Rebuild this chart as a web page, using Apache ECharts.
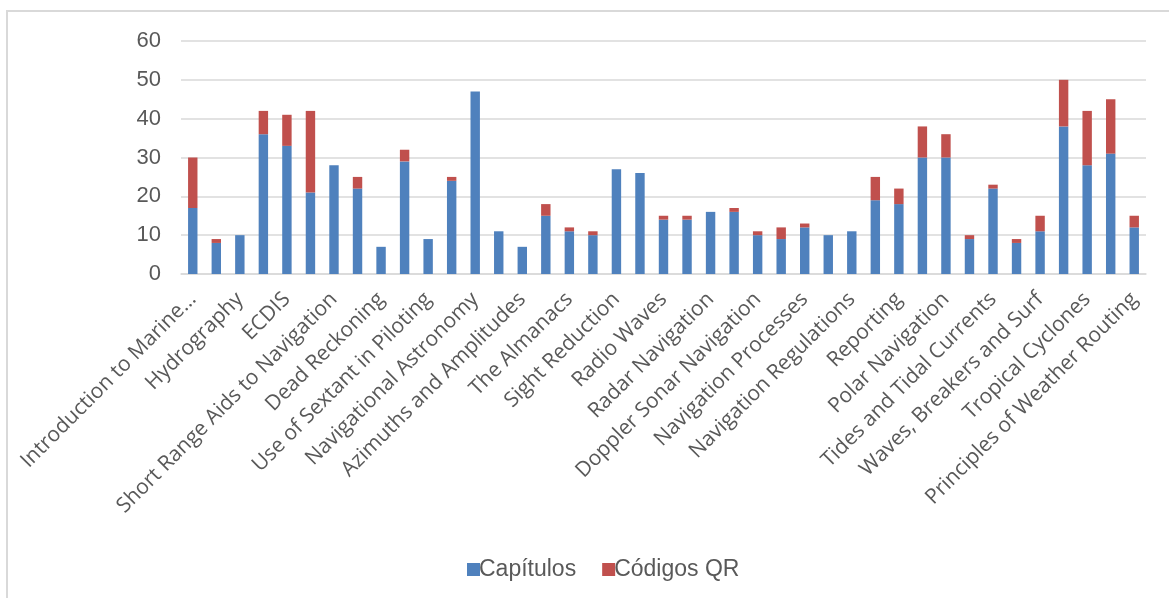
<!DOCTYPE html>
<html>
<head>
<meta charset="utf-8">
<script src="https://cdn.jsdelivr.net/npm/echarts@6/dist/echarts.min.js"></script>
<style>
  html, body { margin: 0; padding: 0; background: #fff; }
  #chart { width: 1169px; height: 598px; }
</style>
</head>
<body>
<div id="chart"></div>
<script>
// chapters, in book order (only every second one gets a label)
var chapters = [
  'Introduction to Marine Navigation', 'Geodesy and Datums in Navigation', 'Hydrography', 'Nautical Charts',
  'ECDIS', 'Nautical Publications', 'Short Range Aids to Navigation', 'Compasses',
  'Dead Reckoning', 'Piloting', 'Use of Sextant in Piloting', 'Introduction to Celestial Navigation',
  'Navigational Astronomy', 'Instruments for Celestial Navigation', 'Azimuths and Amplitudes', 'Time',
  'The Almanacs', 'Sight Planning', 'Sight Reduction', 'Navigational Calculations',
  'Radio Waves', 'Satellite Navigation', 'Radar Navigation', 'Electronic Navigation Systems',
  'Doppler Sonar Navigation', 'Emergency Navigation', 'Navigation Processes', 'Bridge Resource Management',
  'Navigation Regulations', 'Maritime Safety Systems', 'Reporting', 'Ice in the Sea',
  'Polar Navigation', 'Oceanography', 'Tides and Tidal Currents', 'Ocean Currents',
  'Waves, Breakers and Surf', 'Weather Elements', 'Tropical Cyclones', 'Weather Observations',
  'Principles of Weather Routing'
];

var capitulos = [
  17, 8, 10, 36, 33, 21, 28, 22, 7, 29, 9, 24, 47, 11,
  7, 15, 11, 10, 27, 26, 14, 14, 16, 16, 10, 9, 12,
  10, 11, 19, 18, 30, 30, 9, 22, 8, 11, 38, 28, 31, 12
];

var codigosQR = [
  13, 1, 0, 6, 8, 21, 0, 3, 0, 3, 0, 1, 0, 0,
  0, 3, 1, 1, 0, 0, 1, 1, 0, 1, 1, 3, 1,
  0, 0, 6, 4, 8, 6, 1, 1, 1, 4, 12, 14, 14, 3
];

var yTicks = { min: 0, max: 60, interval: 10 };

var chart = echarts.init(document.getElementById('chart'));

var option = {
  animation: false,
  backgroundColor: '#fff',
  graphic: [{
    type: 'rect',
    shape: { x: 7, y: 11, width: 1300, height: 700 },
    style: { fill: 'none', stroke: '#d9d9d9', lineWidth: 2 },
    silent: true
  }],
  grid: { left: 181, right: 23, top: 41, bottom: 324 },
  legend: {
    left: 462,
    top: 553,
    itemWidth: 13,
    itemHeight: 13,
    itemGap: 26,
    icon: 'rect',
    textStyle: {
      fontFamily: 'Liberation Sans',
      fontSize: 23,
      color: '#595959',
      padding: [0, 0, 0, -6]
    },
    data: ['Capítulos', 'Códigos QR']
  },
  xAxis: {
    type: 'category',
    data: chapters,
    axisLine: { lineStyle: { color: '#d9d9d9', width: 1.5 } },
    axisTick: { show: false },
    axisLabel: {
      interval: 1,
      rotate: 45,
      margin: 22,
      fontFamily: 'Open Sans',
      fontSize: 21,
      color: '#595959',
      formatter: function (name) {
        return name.length > 31 ? name.slice(0, 22) + '…' : name;
      }
    }
  },
  yAxis: {
    type: 'value',
    min: yTicks.min,
    max: yTicks.max,
    interval: yTicks.interval,
    axisLine: { show: false },
    axisTick: { show: false },
    splitLine: { lineStyle: { color: '#d9d9d9', width: 1.5 } },
    axisLabel: {
      margin: 20,
      fontFamily: 'Liberation Sans',
      fontSize: 22,
      color: '#595959'
    }
  },
  series: [
    {
      name: 'Capítulos',
      type: 'bar',
      stack: 'total',
      barWidth: '40%',
      itemStyle: { color: '#4f81bd' },
      data: capitulos
    },
    {
      name: 'Códigos QR',
      type: 'bar',
      stack: 'total',
      barWidth: '40%',
      itemStyle: { color: '#c0504d' },
      data: codigosQR
    }
  ]
};

chart.setOption(option);
</script>
</body>
</html>
